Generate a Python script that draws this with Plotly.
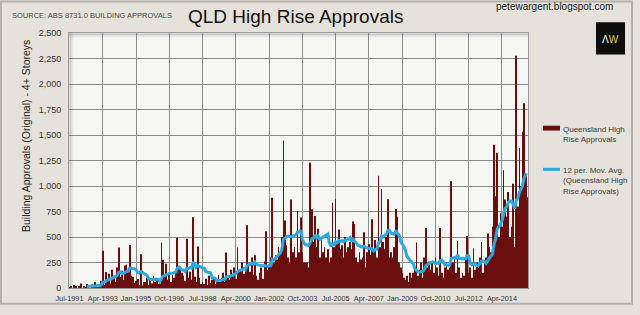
import pandas as pd
import plotly.graph_objects as go

# ---- data (monthly, Jul-1991 .. Aug-2015) ----
start_month = "1991-07-01"
approvals = [
    5, 10, 0, 30, 15, 0, 10, 45, 0, 20, 5, 40,
    10, 0, 35, 20, 60, 15, 40, 25, 70, 365, 30, 157,
    90, 140, 45, 180, 120, 60, 200, 397, 110, 170, 80, 220,
    230, 160, 422, 120, 110, 50, 70, 90, 30, 330, 25, 60,
    60, 100, 30, 80, 45, 120, 60, 90, 40, 45, 445, 278,
    120, 237, 80, 150, 60, 130, 100, 180, 493, 200, 210, 150,
    120, 70, 483, 100, 160, 80, 694, 110, 60, 406, 100, 40,
    60, 40, 90, 30, 120, 50, 80, 110, 40, 70, 130, 60,
    100, 150, 60, 349, 120, 80, 180, 140, 200, 90, 397, 160,
    180, 250, 140, 200, 614, 220, 160, 300, 130, 320, 120, 80,
    150, 200, 90, 260, 557, 180, 230, 300, 886, 250, 320, 280,
    400, 350, 500, 1446, 662, 420, 300, 250, 867, 350, 400, 300,
    755, 350, 691, 350, 250, 250, 250, 200, 1229, 771, 450, 707,
    400, 582, 300, 477, 350, 400, 300, 380, 250, 300, 835, 400,
    870, 450, 573, 380, 420, 300, 500, 350, 400, 450, 380, 653,
    630, 300, 250, 350, 280, 300, 547, 200, 350, 429, 320, 675,
    350, 470, 300, 1101, 400, 973, 450, 380, 500, 870, 300, 350,
    300, 400, 775, 701, 250, 200, 150, 100, 80, 120, 60, 150,
    100, 150, 200, 445, 120, 180, 250, 100, 300, 589, 200, 260,
    180, 250, 150, 300, 200, 120, 589, 150, 100, 200, 250, 180,
    200, 1046, 250, 300, 150, 461, 200, 100, 150, 120, 300, 509,
    150, 200, 100, 390, 180, 250, 200, 300, 451, 150, 250, 300,
    535, 400, 350, 600, 1405, 900, 1325, 500, 733, 600, 1155, 867,
    700, 941, 500, 600, 1021, 400, 2278, 800, 1373, 1000, 1533, 1811, 1100, 890,
]
months = pd.date_range(start_month, periods=len(approvals), freq="MS")
ma_window = 12
moving_avg = pd.Series(approvals).rolling(ma_window).mean()

bar_name = "Queensland High Rise Approvals"
ma_name = "12 per. Mov. Avg. (Queensland High Rise Approvals)"
title_text = "QLD High Rise Approvals"
source_text = "SOURCE: ABS 8731.0 BUILDING APPROVALS"
site_text = "petewargent.blogspot.com"
y_title = "Building Approvals (Original) - 4+ Storeys"

BAR_COLOR = "#6a0e0e"
LINE_COLOR = "#2aa8df"
FONT = "Liberation Sans Narrow, Liberation Sans, Arial"

W, H = 640, 315
L, R, T, B = 69, 112, 33, 22
PW, PH = W - L - R, H - T - B


def px(xp):
    return (xp - L) / PW


def py(yp):
    return (H - B - yp) / PH


fig = go.Figure()
fig.add_bar(x=months, y=approvals, name=bar_name, marker_color=BAR_COLOR,
            marker_line_width=0, showlegend=False)
fig.add_scatter(x=months, y=moving_avg, mode="lines", name=ma_name,
                line=dict(color=LINE_COLOR, width=3), showlegend=False)

shapes = []
# plot-area inner shadow (left and top)
for i, op in enumerate([0.35, 0.22, 0.12, 0.06]):
    shapes.append(dict(type="line", xref="paper", yref="paper",
                       x0=px(L + 1 + i), x1=px(L + 1 + i), y0=0, y1=1,
                       line=dict(color=f"rgba(90,90,90,{op})", width=1)))
    shapes.append(dict(type="line", xref="paper", yref="paper",
                       x0=0, x1=1, y0=py(T + 1 + i), y1=py(T + 1 + i),
                       line=dict(color=f"rgba(90,90,90,{op})", width=1)))
# outer frame of the picture
shapes.append(dict(type="rect", xref="paper", yref="paper",
                   x0=px(1), x1=px(632), y0=py(309), y1=py(1),
                   line=dict(color="#b3b1a8", width=2), fillcolor="rgba(0,0,0,0)",
                   layer="below"))
# logo box
shapes.append(dict(type="rect", xref="paper", yref="paper",
                   x0=px(596), x1=px(625), y0=py(55), y1=py(22),
                   line=dict(width=0), fillcolor="#0d0d0d"))
# legend swatches
shapes.append(dict(type="rect", xref="paper", yref="paper",
                   x0=px(543), x1=px(560), y0=py(132.5), y1=py(127.5),
                   line=dict(width=0), fillcolor=BAR_COLOR))
shapes.append(dict(type="line", xref="paper", yref="paper",
                   x0=px(543), x1=px(560), y0=py(172), y1=py(172),
                   line=dict(color=LINE_COLOR, width=3)))

annotations = [
    dict(text=title_text, x=px(295), y=py(16), xref="paper", yref="paper",
         showarrow=False, font=dict(family=FONT, size=19, color="#111111"),
         xanchor="center", yanchor="middle"),
    dict(text=source_text, x=px(10), y=py(15), xref="paper", yref="paper",
         showarrow=False, font=dict(family=FONT, size=7.5, color="#4a4a4a"),
         xanchor="left", yanchor="middle"),
    dict(text=site_text, x=px(554), y=py(6), xref="paper", yref="paper",
         showarrow=False, font=dict(family=FONT, size=10, color="#222222"),
         xanchor="center", yanchor="middle"),
    dict(text="<span style='color:#ffffff'>Λ</span><span style='color:#e3cf4a'>W</span>",
         x=px(610.5), y=py(40), xref="paper", yref="paper", showarrow=False,
         font=dict(family="Liberation Sans", size=10), xanchor="center", yanchor="middle"),
    dict(text=y_title, x=px(26), y=py(138), xref="paper", yref="paper",
         showarrow=False, textangle=-90,
         font=dict(family=FONT, size=10.5, color="#222222"),
         xanchor="center", yanchor="middle"),
    dict(text="Queensland High<br>Rise Approvals", x=px(561), y=py(125),
         xref="paper", yref="paper", showarrow=False, align="left",
         font=dict(family=FONT, size=8, color="#3a3a3a"),
         xanchor="left", yanchor="top"),
    dict(text="12 per. Mov. Avg.<br>(Queensland High<br>Rise Approvals)",
         x=px(561), y=py(167), xref="paper", yref="paper", showarrow=False,
         align="left", font=dict(family=FONT, size=8, color="#3a3a3a"),
         xanchor="left", yanchor="top"),
]

fig.update_layout(
    width=W, height=H,
    margin=dict(l=L, r=R, t=T, b=B, pad=0),
    paper_bgcolor="#e4e2da",
    plot_bgcolor="#f6f6f3",
    bargap=0.5,
    font=dict(family=FONT, size=9, color="#333333"),
    shapes=shapes,
    annotations=annotations,
    showlegend=False,
)
fig.update_xaxes(
    type="date",
    range=["1991-06-22", "2015-08-14"],
    tick0=start_month, dtick="M21", tickformat="%b-%Y", tickangle=0,
    showgrid=True, gridcolor="#8c8c8c", gridwidth=1,
    showline=True, mirror=True, linecolor="#9a9a9a", linewidth=1,
    ticks="outside", ticklen=3, tickcolor="rgba(0,0,0,0)",
    tickfont=dict(family=FONT, size=7.3, color="#333333"),
)
fig.update_yaxes(
    range=[0, 2500], dtick=250, tickformat=",d",
    showgrid=True, gridcolor="#8c8c8c", gridwidth=1,
    zeroline=False,
    showline=True, mirror=True, linecolor="#9a9a9a", linewidth=1,
    ticks="outside", ticklen=5, tickcolor="rgba(0,0,0,0)",
    tickfont=dict(family=FONT, size=9, color="#333333"),
)

fig.write_html("out.html")
